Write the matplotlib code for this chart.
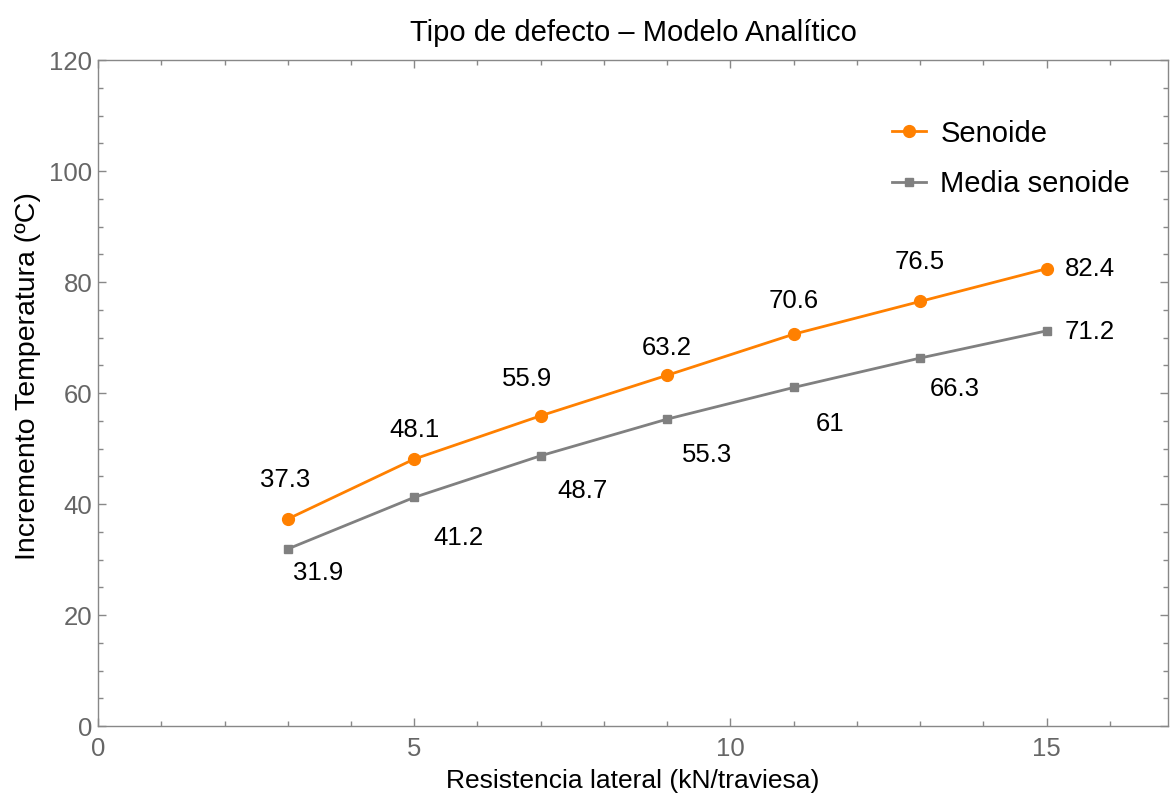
import numpy as np
import matplotlib.pyplot as plt
from matplotlib.ticker import MultipleLocator

plt.rcParams['font.family'] = ['Liberation Sans', 'DejaVu Sans']

# Resistencia lateral (kN/traviesa)
x = [3, 5, 7, 9, 11, 13, 15]
senoide = [37.3, 48.1, 55.9, 63.2, 70.6, 76.5, 82.4]
media_senoide = [31.9, 41.2, 48.7, 55.3, 61, 66.3, 71.2]
senoide_labels = ["37.3", "48.1", "55.9", "63.2", "70.6", "76.5", "82.4"]
media_labels = ["31.9", "41.2", "48.7", "55.3", "61", "66.3", "71.2"]

# label offsets in pixels relative to each point
off_sen = [(-3, 39), (0, 29), (-14, 37), (0, 27), (0, 33), (0, 39), (43, 0)]
off_med = [(30, -24), (44, -41), (42, -35), (40, -36), (36, -37), (35, -31), (43, -1)]

orange = "#FF8000"
gray = "#808080"

fig = plt.figure(figsize=(11.7, 7.96), dpi=100)
ax = fig.add_axes([0.0838, 0.0879, 0.9145, 0.8367])

ax.plot(x, senoide, color=orange, lw=2, marker="o", ms=8.5, label="Senoide", clip_on=False)
ax.plot(x, media_senoide, color=gray, lw=2, marker="s", ms=5.5, label="Media senoide", clip_on=False)

for xi, yi, t, o in zip(x, senoide, senoide_labels, off_sen):
    ax.annotate(t, (xi, yi), xytext=(o[0] * 0.72, o[1] * 0.72), textcoords="offset points",
                ha="center", va="center", fontsize=18.5, color="black")
for xi, yi, t, o in zip(x, media_senoide, media_labels, off_med):
    ax.annotate(t, (xi, yi), xytext=(o[0] * 0.72, o[1] * 0.72), textcoords="offset points",
                ha="center", va="center", fontsize=18.5, color="black")

ax.set_xlim(0, 16.92)
ax.set_ylim(0, 120)
ax.xaxis.set_major_locator(MultipleLocator(5))
ax.xaxis.set_minor_locator(MultipleLocator(1))
ax.yaxis.set_major_locator(MultipleLocator(20))
ax.yaxis.set_minor_locator(MultipleLocator(5))

ax.tick_params(which="both", direction="in", colors="#888888", labelcolor="#666666",
               top=True, right=True, labelsize=18.5, width=1)
ax.tick_params(which="major", length=6)
ax.tick_params(which="minor", length=3.5)
ax.tick_params(axis="x", pad=8)
ax.tick_params(axis="y", pad=4)
for s in ax.spines.values():
    s.set_color("#888888")
    s.set_linewidth(1)

ax.set_xlabel("Resistencia lateral (kN/traviesa)", fontsize=19, labelpad=6)
ax.set_ylabel("Incremento Temperatura (ºC)", fontsize=20.5)
ax.yaxis.set_label_coords(-0.053, 0.525)
ax.set_title("Tipo de defecto \u2013 Modelo Analítico", fontsize=21, pad=14)

leg = ax.legend(loc="upper right", bbox_to_anchor=(0.989, 0.95), frameon=False, fontsize=21,
                handlelength=1.15, handletextpad=0.5, labelspacing=0.78)

fig.savefig("out.png", dpi=100)
